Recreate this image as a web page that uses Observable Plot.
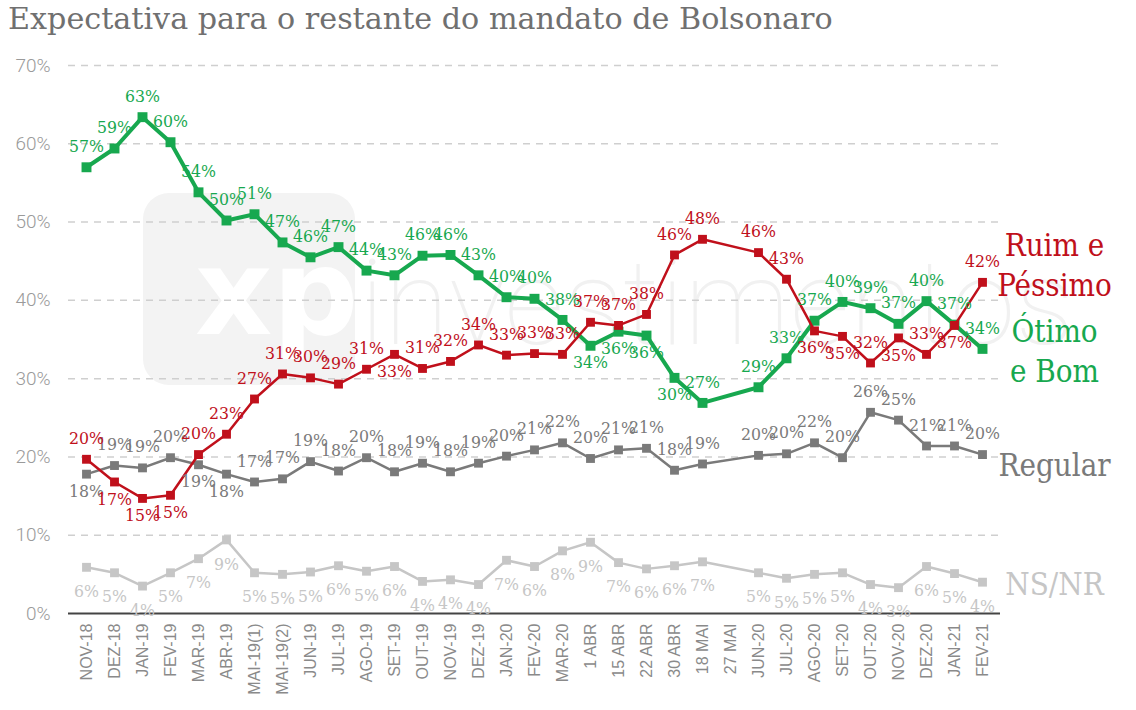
<!DOCTYPE html>
<html>
<head>
<meta charset="utf-8">
<script src="https://cdn.jsdelivr.net/npm/d3@7"></script>
<script src="https://cdn.jsdelivr.net/npm/@observablehq/plot@0.6"></script>
<style>
  html, body { margin: 0; padding: 0; background: #fff; }
  #wrap { position: relative; width: 1136px; height: 710px; overflow: hidden; }
  #title { position: absolute; left: 8px; top: 1px; font-family: "DejaVu Serif", serif; font-size: 30.2px; color: #707070; white-space: nowrap; }
  #wm { position: absolute; left: 143px; top: 193px; width: 212px; height: 192px; background: #f3f3f3; border-radius: 26px; }
  #wm span { position: absolute; left: 52px; top: 40px; font-family: "DejaVu Sans", sans-serif; font-weight: bold; font-size: 120px; color: #fff; line-height: 1; }
  #wm2 { position: absolute; left: 360px; top: 235px; font-family: Roboto, sans-serif; font-weight: 100; font-size: 118px; color: #f1f1f1; white-space: nowrap; }
  #chart { position: absolute; left: 0; top: 45px; }
</style>
</head>
<body>
<div id="wrap">
  <div id="wm"><span>xp</span></div>
  <div id="wm2">investimentos</div>
  <div id="title">Expectativa para o restante do mandato de Bolsonaro</div>
  <div id="chart"></div>
</div>
<script>
const categories = ["NOV-18","DEZ-18","JAN-19","FEV-19","MAR-19","ABR-19","MAI-19(1)","MAI-19(2)","JUN-19","JUL-19","AGO-19","SET-19","OUT-19","NOV-19","DEZ-19","JAN-20","FEV-20","MAR-20","1 ABR","15 ABR","22 ABR","30 ABR","18 MAI","27 MAI","JUN-20","JUL-20","AGO-20","SET-20","OUT-20","NOV-20","DEZ-20","JAN-21","FEV-21"];

// null = no survey for that date
const otimoBom   = [57.0,59.4,63.4,60.2,53.8,50.2,51.0,47.4,45.5,46.8,43.8,43.2,45.7,45.8,43.2,40.4,40.2,37.5,34.2,36.0,35.5,30.1,26.9,null,28.9,32.6,37.4,39.8,39.0,37.0,39.9,36.9,33.8];
const ruimPessimo= [19.7,16.8,14.7,15.1,20.3,22.9,27.4,30.6,30.1,29.3,31.2,33.1,31.3,32.2,34.3,33.0,33.2,33.1,37.2,36.8,38.2,45.8,47.8,null,46.1,42.7,36.1,35.4,32.0,35.2,33.1,36.8,42.3];
const regular    = [17.8,18.9,18.6,19.9,19.0,17.8,16.8,17.2,19.4,18.2,19.9,18.1,19.2,18.1,19.2,20.1,20.9,21.8,19.8,20.9,21.1,18.3,19.1,null,20.2,20.4,21.8,19.9,25.7,24.7,21.4,21.4,20.3];
const nsnr       = [5.9,5.2,3.5,5.2,7.0,9.4,5.2,5.0,5.3,6.1,5.4,6.0,4.1,4.3,3.7,6.8,6.0,8.0,9.1,6.5,5.7,6.1,6.6,null,5.2,4.5,5.0,5.2,3.7,3.3,6.0,5.1,4.0];

const yTicks = [0,10,20,30,40,50,60,70];
const seriesNames = ["Ótimo e Bom","Ruim e Péssimo","Regular","NS/NR"];
const legendLabels = ["Ótimo\ne Bom","Ruim e\nPéssimo","Regular","NS/NR"];

// label placement (below the marker) per series
const belowLabels = {
  "Ótimo e Bom": ["1 ABR","15 ABR","22 ABR","30 ABR"],
  "Ruim e Péssimo": ["DEZ-18","JAN-19","FEV-19","SET-19","AGO-20","SET-20","NOV-20","JAN-21"],
  "Regular": ["NOV-18","MAR-19","ABR-19"],
  "NS/NR": categories
};

const colors = {"Ótimo e Bom":"#17a84f","Ruim e Péssimo":"#c0101b","Regular":"#7a7a7a","NS/NR":"#c6c6c6"};
const widths = {"Ótimo e Bom":4,"Ruim e Péssimo":2.5,"Regular":2.5,"NS/NR":2.5};
const radius = {"Ótimo e Bom":5.6,"Ruim e Péssimo":5,"Regular":5,"NS/NR":5};
const belowDy = {"Ótimo e Bom":17,"Ruim e Péssimo":17,"Regular":17,"NS/NR":24};

const valuesBy = {"Ótimo e Bom":otimoBom,"Ruim e Péssimo":ruimPessimo,"Regular":regular,"NS/NR":nsnr};
const drawOrder = ["NS/NR","Regular","Ótimo e Bom","Ruim e Péssimo"];

function rows(name) {
  return categories.map((c,i)=>({cat:c, v:valuesBy[name][i], name})).filter(d=>d.v!=null);
}

const labelFont = '"DejaVu Serif Condensed", "DejaVu Serif", serif';
const marks = [];
marks.push(Plot.ruleY(yTicks.filter(t=>t>0), {stroke:"#cfcfcf", strokeWidth:1.5, strokeDasharray:"7,6"}));
marks.push(Plot.ruleY([0], {stroke:"#444", strokeWidth:2}));
for (const name of drawOrder) {
  const data = rows(name);
  marks.push(Plot.line(data, {x:"cat", y:"v", stroke:colors[name], strokeWidth:widths[name], curve:"linear"}));
  marks.push(Plot.dot(data, {x:"cat", y:"v", symbol:"square", r:radius[name], fill:colors[name]}));
}
for (const name of drawOrder) {
  const data = rows(name);
  const below = new Set(belowLabels[name]);
  marks.push(Plot.text(data.filter(d=>!below.has(d.cat)), {x:"cat", y:"v", text:d=>Math.round(d.v)+"%", dy:-21, fill:colors[name], fontSize:17.5, fontFamily:labelFont}));
  marks.push(Plot.text(data.filter(d=>below.has(d.cat)), {x:"cat", y:"v", text:d=>Math.round(d.v)+"%", dy:belowDy[name], fill:colors[name], fontSize:17.5, fontFamily:labelFont}));
}
const legendDy = {"Ótimo e Bom":0,"Ruim e Péssimo":-19,"Regular":9,"NS/NR":0};
seriesNames.forEach((name,k)=>{
  const d = rows(name).slice(-1);
  marks.push(Plot.text(d, {x:"cat", y:"v", text:()=>legendLabels[k], dx:72, dy:legendDy[name], fill:colors[name], fontSize:31, lineHeight:1.29, fontFamily:labelFont, textAnchor:"middle"}));
});

const chart = Plot.plot({
  width: 1136,
  height: 665,
  marginTop: 20,
  marginBottom: 97,
  marginLeft: 68,
  marginRight: 136,
  style: {background:"transparent", overflow:"visible"},
  x: {type:"point", domain:categories, padding:0.5, label:null},
  y: {domain:[0,70], label:null},
  axis: null,
  marks: [
    Plot.axisX({tickRotate:-90, tickSize:0, tickPadding:10, fontSize:16, fill:"#8a8a8a", fontFamily:'"Liberation Sans", Arial, sans-serif', label:null}),
    Plot.axisY({ticks:yTicks, tickFormat:d=>d+"%", tickSize:0, tickPadding:18, fontSize:19, fill:"#9a9a9a", fontFamily:'Roboto, sans-serif', fontWeight:300, label:null}),
    ...marks
  ]
});
document.getElementById("chart").appendChild(chart);
</script>
</body>
</html>
